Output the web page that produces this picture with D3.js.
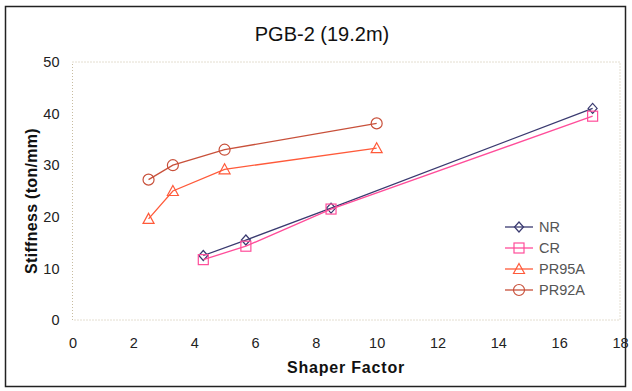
<!DOCTYPE html>
<html><head><meta charset="utf-8">
<script src="https://cdn.jsdelivr.net/npm/d3@7"></script>
<style>body{margin:0;background:#fff}svg{display:block}text{font-family:Arial,"Liberation Sans",sans-serif}</style>
</head><body>
<svg id="c" width="632" height="391"></svg>
<script>
const title = "PGB-2 (19.2m)";
const xLabel = "Shaper Factor";
const yLabel = "Stiffness (ton/mm)";
const xTicks = [0,2,4,6,8,10,12,14,16,18];
const yTicks = [0,10,20,30,40,50];
const seriesNames = ["NR","CR","PR95A","PR92A"];
const nrX = [4.3,5.7,8.5,17.1];
const nrY = [12.5,15.5,21.7,41.0];
const crX = [4.3,5.7,8.5,17.1];
const crY = [11.7,14.3,21.5,39.5];
const pr95X = [2.5,3.3,5.0,10.0];
const pr95Y = [19.6,25.0,29.2,33.3];
const pr92X = [2.5,3.3,5.0,10.0];
const pr92Y = [27.2,30.0,33.0,38.1];

const colors = ["#3a3a70","#ff4d9a","#ff5a3a","#c8503a"];
const shapes = ["diamond","square","triangle","circle"];
const series = [[nrX,nrY],[crX,crY],[pr95X,pr95Y],[pr92X,pr92Y]].map((d,i)=>({
  name: seriesNames[i], color: colors[i], shape: shapes[i],
  pts: d[0].map((x,j)=>({x, y:d[1][j]}))
}));

const svg = d3.select("#c");
svg.append("rect").attr("x",5.5).attr("y",6.5).attr("width",620).attr("height",380)
  .attr("fill","#fff").attr("stroke","#222").attr("stroke-width",1.5);

const x = d3.scaleLinear().domain([0,18]).range([72.5,620]);
const y = d3.scaleLinear().domain([0,50]).range([320,62]);

const g = svg.append("g");
g.append("rect").attr("x",x(0)).attr("y",y(50)).attr("width",x(18)-x(0)).attr("height",y(0)-y(50))
  .attr("fill","none").attr("stroke","#c8bca0").attr("stroke-width",1).attr("stroke-dasharray","1,2");

const xa = svg.append("g").attr("transform",`translate(0,${y(0)})`)
  .call(d3.axisBottom(x).tickValues(xTicks).tickSize(0).tickPadding(18).tickFormat(d3.format("d")));
const ya = svg.append("g").attr("transform",`translate(${x(0)},0)`)
  .call(d3.axisLeft(y).tickValues(yTicks).tickSize(0).tickPadding(13).tickFormat(d3.format("d")));
[xa,ya].forEach(a=>{a.select(".domain").remove();a.selectAll("text").attr("font-size",14.5).attr("fill","#222").attr("font-family","Arial, Liberation Sans, sans-serif");});

svg.append("text").attr("x",322).attr("y",41).attr("text-anchor","middle").attr("font-size",20).attr("fill","#111").text(title);
svg.append("text").attr("x",346).attr("y",373).attr("text-anchor","middle").attr("font-size",16).attr("font-weight","bold").attr("letter-spacing",0.8).attr("fill","#111").text(xLabel);
svg.append("text").attr("transform","translate(37,201) rotate(-90)").attr("text-anchor","middle").attr("font-size",16).attr("font-weight","bold").attr("letter-spacing",0.3).attr("fill","#111").text(yLabel);

function marker(sel, shape, color){
  let p;
  if(shape==="diamond") p = sel.append("path").attr("d","M0,-5L4.5,0L0,5L-4.5,0Z");
  else if(shape==="square") p = sel.append("rect").attr("x",-5).attr("y",-5).attr("width",10).attr("height",10);
  else if(shape==="triangle") p = sel.append("path").attr("d","M0,-5.5L5.5,4.5L-5.5,4.5Z");
  else p = sel.append("circle").attr("r",5.5);
  p.attr("fill","none").attr("stroke",color).attr("stroke-width",1.2);
}

const line = d3.line().x(d=>x(d.x)).y(d=>y(d.y));
series.forEach(s=>{
  svg.append("path").datum(s.pts).attr("d",line).attr("fill","none").attr("stroke",s.color).attr("stroke-width",1.3);
  s.pts.forEach(p=>{
    const m = svg.append("g").attr("transform",`translate(${x(p.x)},${y(p.y)})`);
    marker(m, s.shape, s.color);
  });
});

series.forEach((s,i)=>{
  const ly = 227 + i*21;
  svg.append("line").attr("x1",505).attr("x2",533).attr("y1",ly).attr("y2",ly).attr("stroke",s.color).attr("stroke-width",1.3);
  const m = svg.append("g").attr("transform",`translate(519,${ly})`);
  marker(m, s.shape, s.color);
  svg.append("text").attr("x",539).attr("y",ly+5).attr("font-size",14.5).attr("fill","#555").text(s.name);
});
</script>
</body></html>
